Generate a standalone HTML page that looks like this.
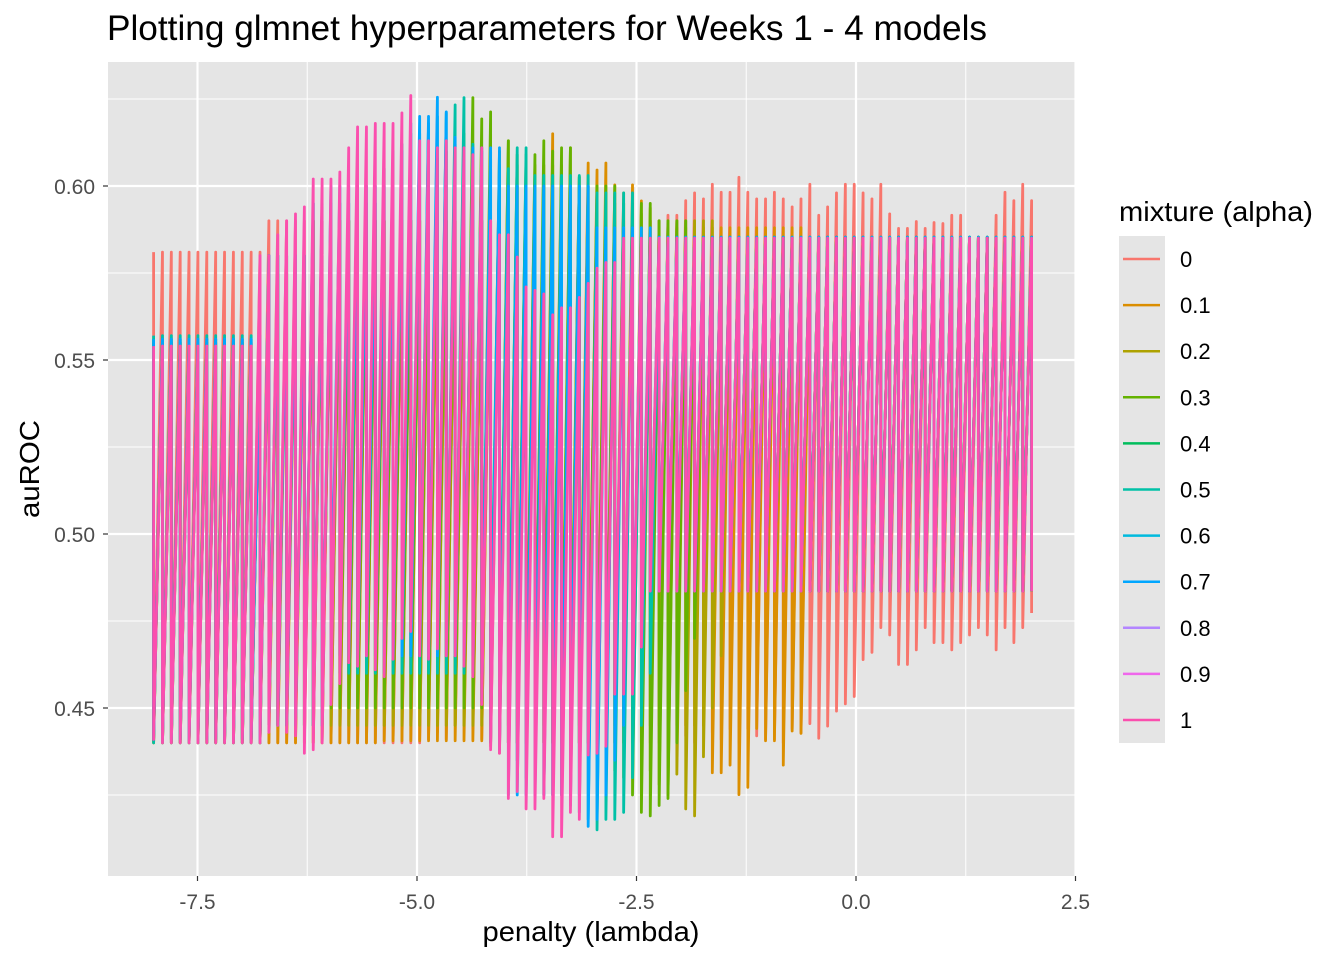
<!DOCTYPE html>
<html><head><meta charset="utf-8"><style>
html,body{margin:0;padding:0;background:#fff;}
svg{display:block;font-family:"Liberation Sans",Arial,sans-serif;}
</style></head><body>
<svg id="chart" width="1344" height="960" viewBox="0 0 1344 960">
<text x="107" y="40" font-size="35" textLength="880" lengthAdjust="spacingAndGlyphs" fill="#000">Plotting glmnet hyperparameters for Weeks 1 - 4 models</text>
<rect x="108" y="62" width="967" height="814" fill="#e5e5e5"/>
<g id="grid"></g>
<g id="series"></g>
<g id="axes"></g>
<text x="591" y="941" font-size="28" textLength="217" lengthAdjust="spacingAndGlyphs" text-anchor="middle" fill="#000">penalty (lambda)</text>
<text x="0" y="0" font-size="28" textLength="98" lengthAdjust="spacingAndGlyphs" text-anchor="middle" fill="#000" transform="translate(39,469) rotate(-90)">auROC</text>
<text x="1119" y="221" font-size="28" textLength="194" lengthAdjust="spacingAndGlyphs" fill="#000">mixture (alpha)</text>
<rect x="1119" y="236" width="46" height="507" fill="#e5e5e5"/>
<g id="legend"></g>
</svg>
<script>
const xTicks = [-7.5, -5.0, -2.5, 0.0, 2.5];
const xTickLabels = ["-7.5", "-5.0", "-2.5", "0.0", "2.5"];
const yTicks = [0.45, 0.50, 0.55, 0.60];
const yTickLabels = ["0.45", "0.50", "0.55", "0.60"];
const alphaLevels = ["0","0.1","0.2","0.3","0.4","0.5","0.6","0.7","0.8","0.9","1"];
const alphaColors = ["#F8766D","#DB8E00","#AEA200","#64B200","#00BD5C","#00C1A7","#00BADE","#00A6FF","#B385FF","#EF67EB","#FB4FAE"];
const lambdaMin = -8, lambdaMax = 2, lambdaCount = 100;

const hi_a0 = [0.581,0.581,0.581,0.581,0.581,0.581,0.581,0.581,0.581,0.581,
0.581,0.581,0.581,0.590,0.590,0.590,0.590,0.590,0.590,0.590,
0.590,0.590,0.590,0.590,0.590,0.590,0.590,0.590,0.590,0.590,
0.590,0.590,0.590,0.590,0.590,0.590,0.590,0.590,0.590,0.590,
0.590,0.590,0.590,0.590,0.590,0.590,0.590,0.590,0.590,0.590,
0.590,0.590,0.590,0.590,0.590,0.590,0.590,0.5898,0.5916,0.5916,
0.5958,0.5980,0.5963,0.6005,0.5982,0.5982,0.6025,0.5982,0.5963,0.5963,
0.5982,0.5963,0.5940,0.5963,0.6005,0.5916,0.5940,0.5980,0.6005,0.6005,
0.5980,0.5963,0.6005,0.5920,0.5878,0.5878,0.5898,0.5878,0.5895,0.5892,
0.5916,0.5916,0.5853,0.5853,0.5853,0.5916,0.5982,0.5958,0.6005,0.5958];
const lo_a0 = [0.440,0.440,0.440,0.440,0.440,0.440,0.440,0.440,0.440,0.440,
0.440,0.440,0.440,0.440,0.440,0.440,0.440,0.440,0.440,0.440,
0.440,0.440,0.440,0.440,0.440,0.440,0.440,0.440,0.440,0.440,
0.440,0.441,0.443,0.441,0.445,0.448,0.444,0.441,0.439,0.437,
0.440,0.440,0.440,0.440,0.440,0.440,0.440,0.440,0.440,0.440,
0.440,0.440,0.440,0.440,0.440,0.440,0.440,0.440,0.440,0.440,
0.442,0.440,0.445,0.443,0.441,0.444,0.440,0.444,0.442,0.441,
0.441,0.440,0.444,0.443,0.4455,0.4413,0.4448,0.4491,0.4512,0.4533,
0.4639,0.4660,0.4731,0.4710,0.4625,0.4625,0.4667,0.4731,0.4688,0.4688,
0.4667,0.4688,0.4710,0.4731,0.4710,0.4667,0.4731,0.4688,0.4731,0.4773];

const hi_a01 = [0.555,0.555,0.555,0.555,0.555,0.555,0.555,0.555,0.555,0.555,
0.555,0.555,0.555,0.575,0.575,0.575,0.575,0.575,0.590,0.590,
0.590,0.590,0.590,0.590,0.590,0.590,0.590,0.590,0.590,0.590,
0.590,0.590,0.590,0.590,0.590,0.590,0.590,0.590,0.590,0.590,
0.590,0.600,0.600,0.600,0.600,0.615,0.600,0.600,0.600,0.6066,
0.6046,0.6066,0.6003,0.598,0.6003,0.5957,0.5937,0.590,0.588,0.588,
0.588,0.588,0.588,0.588,0.588,0.588,0.588,0.588,0.588,0.588,
0.588,0.588,0.588,0.588,0.5853,0.5853,0.5853,0.5853,0.5853,0.5853,
0.5853,0.5853,0.5853,0.5853,0.5853,0.5853,0.5853,0.5853,0.5853,0.5853,
0.5853,0.5853,0.5853,0.5853,0.5853,0.5853,0.5853,0.5853,0.5853,0.5853];
const lo_a01 = [0.440,0.440,0.440,0.440,0.440,0.440,0.440,0.440,0.440,0.440,
0.440,0.440,0.440,0.440,0.440,0.440,0.440,0.440,0.440,0.440,
0.440,0.440,0.440,0.440,0.440,0.440,0.4406,0.4406,0.4406,0.4406,
0.4406,0.4406,0.4406,0.4406,0.4406,0.4406,0.4406,0.4406,0.440,0.440,
0.440,0.440,0.440,0.440,0.440,0.440,0.440,0.440,0.440,0.440,
0.445,0.445,0.445,0.445,0.445,0.445,0.445,0.445,0.445,0.445,
0.445,0.445,0.445,0.4314,0.4314,0.4336,0.4251,0.4272,0.4441,0.4406,
0.4406,0.4336,0.4434,0.4427,0.4836,0.4836,0.4836,0.4836,0.4836,0.4836,
0.4836,0.4836,0.4836,0.4836,0.4836,0.4836,0.4836,0.4836,0.4836,0.4836,
0.4836,0.4836,0.4836,0.4836,0.4836,0.4836,0.4836,0.4836,0.4836,0.4836];

const hi_a02 = [0.555,0.555,0.555,0.555,0.555,0.555,0.555,0.555,0.555,0.555,
0.555,0.555,0.555,0.575,0.575,0.575,0.575,0.575,0.590,0.590,
0.590,0.590,0.590,0.590,0.590,0.590,0.590,0.590,0.590,0.590,
0.590,0.590,0.590,0.590,0.590,0.590,0.590,0.590,0.590,0.590,
0.613,0.606,0.606,0.606,0.606,0.606,0.606,0.611,0.6026,0.600,
0.600,0.598,0.595,0.595,0.592,0.592,0.590,0.590,0.590,0.590,
0.590,0.590,0.590,0.590,0.5853,0.5853,0.5853,0.5853,0.5853,0.5853,
0.5853,0.5853,0.5853,0.5853,0.5853,0.5853,0.5853,0.5853,0.5853,0.5853,
0.5853,0.5853,0.5853,0.5853,0.5853,0.5853,0.5853,0.5853,0.5853,0.5853,
0.5853,0.5853,0.5853,0.5853,0.5853,0.5853,0.5853,0.5853,0.5853,0.5853];
const lo_a02 = [0.440,0.440,0.440,0.440,0.440,0.440,0.440,0.440,0.440,0.440,
0.440,0.440,0.440,0.445,0.445,0.445,0.445,0.445,0.445,0.445,
0.445,0.445,0.445,0.445,0.445,0.445,0.445,0.445,0.445,0.445,
0.445,0.445,0.445,0.445,0.445,0.445,0.445,0.445,0.445,0.445,
0.445,0.445,0.445,0.445,0.445,0.445,0.445,0.445,0.445,0.445,
0.445,0.440,0.440,0.440,0.440,0.440,0.432,0.428,0.425,0.431,
0.421,0.419,0.436,0.450,0.465,0.4836,0.4836,0.4836,0.4836,0.4836,
0.4836,0.4836,0.4836,0.4836,0.4836,0.4836,0.4836,0.4836,0.4836,0.4836,
0.4836,0.4836,0.4836,0.4836,0.4836,0.4836,0.4836,0.4836,0.4836,0.4836,
0.4836,0.4836,0.4836,0.4836,0.4836,0.4836,0.4836,0.4836,0.4836,0.4836];

const hi_a03 = [0.556,0.556,0.556,0.556,0.556,0.556,0.556,0.556,0.556,0.556,
0.556,0.556,0.556,0.580,0.580,0.580,0.580,0.580,0.590,0.590,
0.590,0.590,0.590,0.590,0.590,0.590,0.590,0.590,0.590,0.590,
0.600,0.605,0.608,0.610,0.612,0.615,0.6254,0.6193,0.6213,0.610,
0.613,0.609,0.609,0.609,0.613,0.610,0.611,0.611,0.6026,0.600,
0.600,0.600,0.600,0.595,0.595,0.595,0.595,0.590,0.590,0.590,
0.590,0.5853,0.5853,0.5853,0.5853,0.5853,0.5853,0.5853,0.5853,0.5853,
0.5853,0.5853,0.5853,0.5853,0.5853,0.5853,0.5853,0.5853,0.5853,0.5853,
0.5853,0.5853,0.5853,0.5853,0.5853,0.5853,0.5853,0.5853,0.5853,0.5853,
0.5853,0.5853,0.5853,0.5853,0.5853,0.5853,0.5853,0.5853,0.5853,0.5853];
const lo_a03 = [0.441,0.441,0.441,0.441,0.441,0.441,0.441,0.441,0.441,0.441,
0.441,0.441,0.441,0.445,0.445,0.445,0.445,0.445,0.445,0.445,
0.450,0.450,0.450,0.450,0.450,0.450,0.450,0.450,0.450,0.450,
0.450,0.450,0.450,0.450,0.450,0.450,0.450,0.450,0.450,0.450,
0.440,0.440,0.440,0.440,0.440,0.440,0.440,0.440,0.440,0.440,
0.440,0.436,0.432,0.430,0.425,0.420,0.419,0.422,0.424,0.440,
0.455,0.470,0.4836,0.4836,0.4836,0.4836,0.4836,0.4836,0.4836,0.4836,
0.4836,0.4836,0.4836,0.4836,0.4836,0.4836,0.4836,0.4836,0.4836,0.4836,
0.4836,0.4836,0.4836,0.4836,0.4836,0.4836,0.4836,0.4836,0.4836,0.4836,
0.4836,0.4836,0.4836,0.4836,0.4836,0.4836,0.4836,0.4836,0.4836,0.4836];

const hi_a05 = [0.557,0.557,0.557,0.557,0.557,0.557,0.557,0.557,0.557,0.557,
0.557,0.557,0.557,0.580,0.580,0.580,0.580,0.580,0.595,0.595,
0.595,0.595,0.595,0.595,0.595,0.595,0.605,0.610,0.612,0.615,
0.615,0.618,0.620,0.621,0.6233,0.6254,0.612,0.610,0.608,0.606,
0.605,0.611,0.611,0.603,0.603,0.603,0.603,0.603,0.603,0.603,
0.598,0.598,0.598,0.598,0.598,0.5853,0.5853,0.5853,0.5853,0.5853,
0.5853,0.5853,0.5853,0.5853,0.5853,0.5853,0.5853,0.5853,0.5853,0.5853,
0.5853,0.5853,0.5853,0.5853,0.5853,0.5853,0.5853,0.5853,0.5853,0.5853,
0.5853,0.5853,0.5853,0.5853,0.5853,0.5853,0.5853,0.5853,0.5853,0.5853,
0.5853,0.5853,0.5853,0.5853,0.5853,0.5853,0.5853,0.5853,0.5853,0.5853];
const lo_a05 = [0.440,0.440,0.440,0.440,0.440,0.440,0.440,0.440,0.440,0.440,
0.440,0.440,0.440,0.445,0.445,0.445,0.445,0.445,0.445,0.445,
0.460,0.460,0.460,0.460,0.460,0.460,0.460,0.460,0.460,0.460,
0.460,0.460,0.460,0.460,0.460,0.460,0.460,0.460,0.460,0.460,
0.440,0.435,0.430,0.428,0.425,0.425,0.425,0.422,0.420,0.418,
0.415,0.418,0.418,0.420,0.430,0.445,0.460,0.4836,0.4836,0.4836,
0.4836,0.4836,0.4836,0.4836,0.4836,0.4836,0.4836,0.4836,0.4836,0.4836,
0.4836,0.4836,0.4836,0.4836,0.4836,0.4836,0.4836,0.4836,0.4836,0.4836,
0.4836,0.4836,0.4836,0.4836,0.4836,0.4836,0.4836,0.4836,0.4836,0.4836,
0.4836,0.4836,0.4836,0.4836,0.4836,0.4836,0.4836,0.4836,0.4836,0.4836];

const hi_a07 = [0.556,0.556,0.556,0.556,0.556,0.556,0.556,0.556,0.556,0.556,
0.556,0.556,0.556,0.580,0.580,0.580,0.580,0.580,0.595,0.595,
0.600,0.600,0.600,0.600,0.600,0.600,0.600,0.600,0.610,0.618,
0.620,0.620,0.6255,0.6213,0.614,0.611,0.611,0.611,0.611,0.611,
0.600,0.600,0.600,0.600,0.600,0.600,0.600,0.600,0.600,0.600,
0.588,0.588,0.588,0.588,0.588,0.588,0.588,0.5853,0.5853,0.5853,
0.5853,0.5853,0.5853,0.5853,0.5853,0.5853,0.5853,0.5853,0.5853,0.5853,
0.5853,0.5853,0.5853,0.5853,0.5853,0.5853,0.5853,0.5853,0.5853,0.5853,
0.5853,0.5853,0.5853,0.5853,0.5853,0.5853,0.5853,0.5853,0.5853,0.5853,
0.5853,0.5853,0.5853,0.5853,0.5853,0.5853,0.5853,0.5853,0.5853,0.5853];
const lo_a07 = [0.441,0.441,0.441,0.441,0.441,0.441,0.441,0.441,0.441,0.441,
0.441,0.441,0.441,0.445,0.445,0.445,0.445,0.445,0.445,0.445,
0.465,0.465,0.465,0.465,0.465,0.465,0.465,0.465,0.465,0.465,
0.465,0.465,0.465,0.465,0.465,0.465,0.465,0.452,0.440,0.438,
0.425,0.425,0.425,0.425,0.425,0.425,0.425,0.425,0.425,0.416,
0.418,0.425,0.435,0.445,0.455,0.468,0.4836,0.4836,0.4836,0.4836,
0.4836,0.4836,0.4836,0.4836,0.4836,0.4836,0.4836,0.4836,0.4836,0.4836,
0.4836,0.4836,0.4836,0.4836,0.4836,0.4836,0.4836,0.4836,0.4836,0.4836,
0.4836,0.4836,0.4836,0.4836,0.4836,0.4836,0.4836,0.4836,0.4836,0.4836,
0.4836,0.4836,0.4836,0.4836,0.4836,0.4836,0.4836,0.4836,0.4836,0.4836];

const hi_a1 = [0.554,0.554,0.554,0.554,0.554,0.554,0.554,0.554,0.554,0.554,
0.554,0.554,0.580,0.580,0.586,0.590,0.592,0.594,0.602,0.602,
0.602,0.604,0.611,0.617,0.617,0.618,0.618,0.618,0.621,0.626,
0.613,0.613,0.611,0.613,0.611,0.611,0.609,0.611,0.590,0.586,
0.586,0.5796,0.571,0.570,0.569,0.563,0.565,0.565,0.568,0.572,
0.5764,0.578,0.578,0.585,0.585,0.585,0.585,0.585,0.585,0.585,
0.585,0.585,0.585,0.585,0.585,0.585,0.585,0.585,0.585,0.585,
0.585,0.585,0.585,0.585,0.585,0.585,0.585,0.585,0.585,0.585,
0.585,0.585,0.585,0.585,0.585,0.585,0.585,0.585,0.585,0.585,
0.585,0.585,0.585,0.585,0.585,0.585,0.585,0.585,0.585,0.585];
const lo_a1 = [0.441,0.440,0.440,0.440,0.440,0.440,0.440,0.440,0.440,0.440,
0.440,0.440,0.440,0.443,0.445,0.443,0.442,0.437,0.438,0.440,
0.451,0.457,0.463,0.462,0.465,0.461,0.459,0.464,0.470,0.472,
0.465,0.464,0.467,0.465,0.465,0.462,0.459,0.451,0.438,0.437,
0.424,0.426,0.421,0.421,0.424,0.413,0.413,0.420,0.418,0.4365,
0.437,0.439,0.454,0.454,0.454,0.4675,0.4836,0.4836,0.4836,0.4836,
0.4836,0.4836,0.4836,0.4836,0.4836,0.4836,0.4836,0.4836,0.4836,0.4836,
0.4836,0.4836,0.4836,0.4836,0.4836,0.4836,0.4836,0.4836,0.4836,0.4836,
0.4836,0.4836,0.4836,0.4836,0.4836,0.4836,0.4836,0.4836,0.4836,0.4836,
0.4836,0.4836,0.4836,0.4836,0.4836,0.4836,0.4836,0.4836,0.4836,0.4836];

const drawnSeries = [
  {alpha:"0", hi:hi_a0, lo:lo_a0},
  {alpha:"0.1", hi:hi_a01, lo:lo_a01},
  {alpha:"0.2", hi:hi_a02, lo:lo_a02},
  {alpha:"0.3", hi:hi_a03, lo:lo_a03},
  {alpha:"0.5", hi:hi_a05, lo:lo_a05},
  {alpha:"0.7", hi:hi_a07, lo:lo_a07},
  {alpha:"1", hi:hi_a1, lo:lo_a1}
];

const NS = "http://www.w3.org/2000/svg";
const X0 = 108, X1 = 1075, Y0 = 62, Y1 = 876;
function xScale(v){ return 856 + v * 87.8; }
function yScale(v){ return 186 + (0.60 - v) * 3480; }
function lambdaAt(i){ return lambdaMin + i * (lambdaMax - lambdaMin) / (lambdaCount - 1); }
function mk(tag, attrs){ const e = document.createElementNS(NS, tag); for (const k in attrs) e.setAttribute(k, attrs[k]); return e; }

const grid = document.getElementById('grid');
for (let i = 0; i < xTicks.length - 1; i++) {
  const xv = (xTicks[i] + xTicks[i+1]) / 2;
  const l = mk('line', {x1:xScale(xv), x2:xScale(xv), y1:Y0, y2:Y1, stroke:'#fff', 'stroke-width':1});
  
  
  grid.appendChild(l);
}
const yMinor = [0.425, 0.475, 0.525, 0.575, 0.625];
yMinor.forEach(v => {
  const l = mk('line', {x1:X0, x2:X1, y1:yScale(v), y2:yScale(v), stroke:'#fff', 'stroke-width':1});
  
  
  grid.appendChild(l);
});
xTicks.forEach(v => {
  const l = mk('line', {x1:xScale(v), x2:xScale(v), y1:Y0, y2:Y1, stroke:'#fff', 'stroke-width':2.2});
  
  
  grid.appendChild(l);
});
yTicks.forEach(v => {
  const l = mk('line', {x1:X0, x2:X1, y1:yScale(v), y2:yScale(v), stroke:'#fff', 'stroke-width':2.2});
  
  
  grid.appendChild(l);
});

const series = document.getElementById('series');
drawnSeries.forEach(s => {
  const color = alphaColors[alphaLevels.indexOf(s.alpha)];
  let d = '';
  for (let i = 0; i < lambdaCount; i++) {
    const x = xScale(lambdaAt(i)).toFixed(2);
    d += (i === 0 ? 'M' : 'L') + x + ',' + yScale(s.hi[i]).toFixed(2) + 'L' + x + ',' + yScale(s.lo[i]).toFixed(2);
  }
  const p = mk('path', {d:d, fill:'none', stroke:color, 'stroke-width':2.8, 'stroke-linejoin':'round'});
  
  
  series.appendChild(p);
});

const axes = document.getElementById('axes');
xTicks.forEach((v, i) => {
  const t = mk('line', {x1:xScale(v), x2:xScale(v), y1:Y1, y2:Y1+5, stroke:'#333', 'stroke-width':1.2});
  
  
  axes.appendChild(t);
  const tx = mk('text', {x:xScale(v), y:909, 'font-size':21, 'text-anchor':'middle', fill:'#4d4d4d'});
  tx.textContent = xTickLabels[i];
  
  
  axes.appendChild(tx);
});
yTicks.forEach((v, i) => {
  const t = mk('line', {x1:X0-5, x2:X0, y1:yScale(v), y2:yScale(v), stroke:'#333', 'stroke-width':1.2});
  
  
  axes.appendChild(t);
  const tx = mk('text', {x:95, y:yScale(v)+8, 'font-size':21, 'text-anchor':'end', fill:'#4d4d4d'});
  tx.textContent = yTickLabels[i];
  
  
  axes.appendChild(tx);
});

const legend = document.getElementById('legend');
alphaLevels.forEach((a, i) => {
  const y = 259 + i * 46.1;
  const g = mk('g', {});
  
  
  const l = mk('line', {x1:1123, x2:1160, y1:y, y2:y, stroke:alphaColors[i], 'stroke-width':2.5});
  
  
  const t = mk('text', {x:1180, y:y+8, 'font-size':22, fill:'#000'});
  t.textContent = a;
  
  
  g.appendChild(l); g.appendChild(t);
  legend.appendChild(g);
});
</script>
</body></html>
